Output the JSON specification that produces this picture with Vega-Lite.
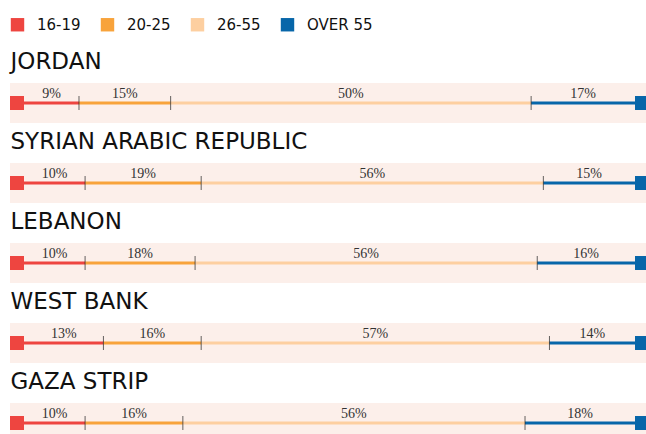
{
  "$schema": "https://vega.github.io/schema/vega-lite/v6.json",
  "width": 636,
  "height": 351,
  "autosize": {"type": "none"},
  "padding": {"left": 10, "top": 83, "right": 0, "bottom": 0},
  "background": "white",
  "config": {"view": {"stroke": null}},
  "data": {
    "values": [
      {"country": "JORDAN", "group": "16-19", "share": 9, "pct": 0.09},
      {"country": "JORDAN", "group": "20-25", "share": 15, "pct": 0.15},
      {"country": "JORDAN", "group": "26-55", "share": 59, "pct": 0.50},
      {"country": "JORDAN", "group": "OVER 55", "share": 17, "pct": 0.17},
      {"country": "SYRIAN ARABIC REPUBLIC", "group": "16-19", "share": 10, "pct": 0.10},
      {"country": "SYRIAN ARABIC REPUBLIC", "group": "20-25", "share": 19, "pct": 0.19},
      {"country": "SYRIAN ARABIC REPUBLIC", "group": "26-55", "share": 56, "pct": 0.56},
      {"country": "SYRIAN ARABIC REPUBLIC", "group": "OVER 55", "share": 15, "pct": 0.15},
      {"country": "LEBANON", "group": "16-19", "share": 10, "pct": 0.10},
      {"country": "LEBANON", "group": "20-25", "share": 18, "pct": 0.18},
      {"country": "LEBANON", "group": "26-55", "share": 56, "pct": 0.56},
      {"country": "LEBANON", "group": "OVER 55", "share": 16, "pct": 0.16},
      {"country": "WEST BANK", "group": "16-19", "share": 13, "pct": 0.13},
      {"country": "WEST BANK", "group": "20-25", "share": 16, "pct": 0.16},
      {"country": "WEST BANK", "group": "26-55", "share": 57, "pct": 0.57},
      {"country": "WEST BANK", "group": "OVER 55", "share": 14, "pct": 0.14},
      {"country": "GAZA STRIP", "group": "16-19", "share": 10, "pct": 0.10},
      {"country": "GAZA STRIP", "group": "20-25", "share": 16, "pct": 0.16},
      {"country": "GAZA STRIP", "group": "26-55", "share": 56, "pct": 0.56},
      {"country": "GAZA STRIP", "group": "OVER 55", "share": 18, "pct": 0.18}
    ]
  },
  "transform": [
    {"stack": "share", "groupby": ["country"], "sort": [{"field": "group"}], "as": ["x0", "x1"]}
  ],
  "encoding": {
    "y": {
      "field": "country",
      "type": "nominal",
      "sort": ["JORDAN", "SYRIAN ARABIC REPUBLIC", "LEBANON", "WEST BANK", "GAZA STRIP"],
      "scale": {"range": [0, 360], "paddingInner": 0.5, "paddingOuter": 0, "align": 0},
      "axis": {
        "title": null,
        "domain": false,
        "ticks": false,
        "orient": "left",
        "zindex": 1,
        "labelAlign": "left",
        "labelBaseline": "alphabetic",
        "labelPadding": 0,
        "labelOffset": -34,
        "labelFont": "DejaVu Sans",
        "labelFontSize": 23,
        "labelColor": "#111111",
        "labelLimit": 0
      }
    }
  },
  "layer": [
    {
      "mark": {"type": "bar", "color": "#fcefea"}
    },
    {
      "transform": [{"filter": "datum.group === '16-19'"}],
      "mark": {"type": "point", "filled": true, "opacity": 1, "size": 196, "shape": "M-2,-1H0V1H-2Z"},
      "encoding": {
        "x": {"field": "x0", "type": "quantitative", "scale": {"domain": [-2.29, 101.8], "nice": false, "zero": false}, "axis": null},
        "color": {
          "field": "group",
          "type": "nominal",
          "scale": {"domain": ["16-19", "20-25", "26-55", "OVER 55"], "range": ["#ee4540", "#f8a33b", "#fdcfa0", "#0766a9"]},
          "legend": {
            "orient": "top",
            "direction": "horizontal",
            "title": null,
            "symbolType": "square",
            "symbolSize": 180,
            "symbolStrokeWidth": 0,
            "symbolOpacity": 1,
            "labelFont": "DejaVu Sans",
            "labelFontSize": 15,
            "labelColor": "#111111",
            "labelOffset": 12,
            "columnPadding": 19,
            "padding": 0,
            "offset": 50
          }
        }
      }
    },
    {
      "transform": [{"filter": "datum.group === 'OVER 55'"}],
      "mark": {"type": "point", "filled": true, "opacity": 1, "size": 196, "shape": "M0,-1H2V1H0Z"},
      "encoding": {
        "x": {"field": "x1", "type": "quantitative"},
        "color": {"field": "group", "type": "nominal"}
      }
    },
    {
      "mark": {"type": "rule", "strokeWidth": 3, "strokeCap": "butt"},
      "encoding": {
        "x": {"field": "x0", "type": "quantitative"},
        "x2": {"field": "x1"},
        "color": {"field": "group", "type": "nominal"}
      }
    },
    {
      "transform": [{"filter": "datum.group !== 'OVER 55'"}],
      "mark": {"type": "tick", "orient": "vertical", "size": 14, "thickness": 1, "color": "#222222"},
      "encoding": {
        "x": {"field": "x1", "type": "quantitative"}
      }
    },
    {
      "transform": [
        {"fold": ["x0", "x1"], "as": ["edge", "pos"]},
        {"aggregate": [{"op": "mean", "field": "pos", "as": "mid"}], "groupby": ["country", "group", "pct"]}
      ],
      "mark": {"type": "text", "font": "Liberation Serif", "fontSize": 14, "color": "#333333", "baseline": "alphabetic", "dy": -5},
      "encoding": {
        "x": {"field": "mid", "type": "quantitative"},
        "text": {"field": "pct", "type": "quantitative", "format": ".0%"}
      }
    }
  ]
}
